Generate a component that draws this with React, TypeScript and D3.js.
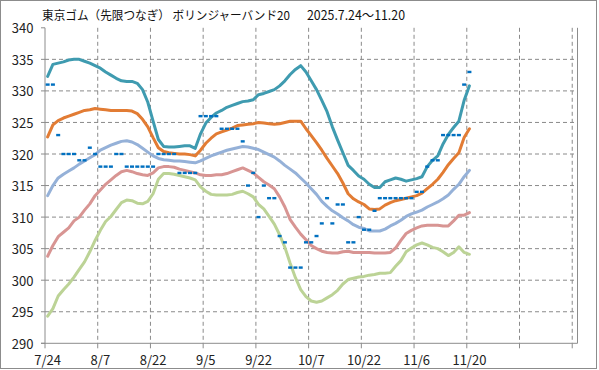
import React from "react";
import * as d3 from "d3";

const dates = [
  "7/24","7/25","7/28","7/29","7/30","7/31","8/1","8/4","8/5","8/6",
  "8/7","8/8","8/12","8/13","8/14","8/15","8/18","8/19","8/20","8/21",
  "8/22","8/25","8/26","8/27","8/28","8/29","9/1","9/2","9/3","9/4",
  "9/5","9/8","9/9","9/10","9/11","9/12","9/16","9/17","9/18","9/19",
  "9/22","9/24","9/25","9/26","9/29","9/30","10/1","10/2","10/3","10/6",
  "10/7","10/8","10/9","10/10","10/14","10/15","10/16","10/17","10/20","10/21",
  "10/22","10/23","10/24","10/27","10/28","10/29","10/30","10/31","11/4","11/5",
  "11/6","11/7","11/10","11/11","11/12","11/13","11/14","11/17","11/18","11/19",
  "11/20",
];
const emptyCategories = 20;

const price = [
  331,331,323,320,320,320,319,319,321,320,
  318,318,318,320,320,318,318,318,318,318,
  318,320,320,320,320,317,317,317,317,326,
  326,326,326,324,324,324,324,322,315,317,
  310,315,313,313,307,306,302,302,302,306,
  306,307,309,313,309,312,312,306,306,310,
  308,308,311,313,313,313,313,313,313,313,
  314,314,318,319,319,323,323,323,323,331,
  333,
];

const upper2 = [
  332.3,334.2,334.4,334.6,334.9,335.0,335.0,334.7,334.4,334.0,
  333.6,333.0,332.5,332.0,331.6,331.5,331.5,331.2,330.2,328.2,
  325.2,322.3,321.2,321.1,321.1,321.2,321.3,321.3,320.9,323.2,
  324.9,325.8,326.5,326.9,327.4,327.7,328.0,328.3,328.4,328.6,
  329.4,329.6,329.9,330.2,330.8,331.6,332.6,333.4,334.0,333.0,
  331.6,330.2,328.5,326.7,324.3,322.2,320.2,318.2,317.4,316.5,
  316.0,315.2,314.7,314.7,315.6,315.9,316.2,316.0,315.7,315.9,
  316.1,316.4,318.0,319.0,319.7,321.6,323.1,324.2,325.2,328.5,
  330.8,
];

const upper1 = [
  322.7,324.6,325.3,325.7,326.0,326.3,326.6,326.9,327.0,327.2,
  327.1,327.0,326.9,326.9,326.9,326.9,326.8,326.4,325.5,324.3,
  322.6,321.0,320.4,320.2,320.1,320.0,320.0,319.9,319.7,320.6,
  321.7,322.5,323.2,323.5,323.8,324.1,324.5,324.6,324.7,324.8,
  325.0,324.9,324.8,324.7,324.8,325.0,325.2,325.2,325.2,324.0,
  322.9,321.8,320.6,319.3,318.1,316.9,315.4,313.7,312.9,312.4,
  312.0,311.3,311.2,311.3,311.9,312.3,312.6,312.8,313.0,313.2,
  313.4,313.8,314.5,315.2,316.0,317.1,318.3,319.3,320.2,322.6,
  324.0,
];

const middle = [
  313.4,315.0,316.2,316.8,317.3,317.8,318.4,318.9,319.4,319.9,
  320.6,321.0,321.4,321.7,322.0,322.1,321.9,321.5,320.9,320.3,
  319.7,319.3,319.1,319.0,318.9,318.9,318.8,318.7,318.6,318.9,
  319.3,319.7,320.0,320.3,320.6,320.8,321.0,321.2,321.1,320.9,
  320.7,320.3,319.9,319.5,318.9,318.2,317.6,317.0,316.2,315.4,
  314.5,313.6,312.5,311.7,311.0,310.5,309.9,309.4,308.8,308.4,
  308.2,307.8,307.8,307.8,308.1,308.6,309.0,309.5,310.1,310.5,
  310.8,311.1,311.6,312.0,312.4,312.9,313.5,314.4,315.2,316.4,
  317.4,
];

const lower1 = [
  303.8,305.5,306.9,307.6,308.3,309.4,310.0,311.1,312.1,313.4,
  314.3,315.2,315.9,316.6,317.2,317.4,317.2,316.9,316.7,316.6,
  317.0,317.8,318.0,318.0,317.9,317.6,317.4,317.2,317.0,316.7,
  316.6,316.6,316.7,316.7,316.9,317.2,317.5,317.8,317.4,317.0,
  316.3,315.6,315.1,314.5,313.2,311.6,309.6,308.4,307.3,306.4,
  305.5,305.0,304.6,304.4,304.3,304.3,304.5,304.6,304.4,304.4,
  304.4,304.4,304.3,304.3,304.3,304.4,305.1,306.3,307.4,307.9,
  308.3,308.6,308.7,308.7,308.7,308.6,308.6,309.4,310.3,310.3,
  310.7,
];

const lower2 = [
  294.3,295.5,297.5,298.5,299.4,300.5,301.7,302.9,304.5,306.3,
  307.9,309.3,310.1,311.2,312.3,312.7,312.6,312.2,312.1,312.5,
  313.7,316.0,316.9,316.9,316.8,316.6,316.4,316.2,315.9,314.8,
  314.1,313.6,313.5,313.5,313.5,313.6,313.9,314.1,313.7,313.2,
  312.0,311.3,310.1,308.9,307.2,305.2,302.7,300.4,298.5,297.4,
  296.7,296.5,296.7,297.2,297.7,298.4,299.4,300.1,300.3,300.5,
  300.6,300.8,300.9,301.1,301.1,301.2,302.2,303.1,304.5,305.1,
  305.6,305.9,305.6,305.2,305.0,304.5,303.9,304.4,305.3,304.4,
  304.1,
];

const yTicks = [290, 295, 300, 305, 310, 315, 320, 325, 330, 335, 340];
const titleMain = "東京ゴム（先限つなぎ） ボリンジャーバンド20";
const titleRange = "2025.7.24～11.20";

const W = 599;
const H = 370;
const plotL = 45;
const plotR = 577.5;
const plotT = 27.8;
const plotB = 343.3;

const seriesList = [
  { name: "+2σ", values: upper2, color: "#3f9bb0" },
  { name: "+1σ", values: upper1, color: "#e27c34" },
  { name: "MA20", values: middle, color: "#95b1d8" },
  { name: "-1σ", values: lower1, color: "#d89593" },
  { name: "-2σ", values: lower2, color: "#bcd396" },
];

export default function App() {
  const nCat = dates.length + emptyCategories;
  const cats = d3.range(nCat);
  const x = d3.scaleBand<number>().domain(cats).range([plotL, plotR]).padding(0);
  const bw = x.bandwidth();
  const cx = (i: number) => (x(i) as number) + bw / 2;
  const y = d3.scaleLinear().domain([290, 340]).range([plotB, plotT]);

  const line = d3
    .line<number>()
    .x((_, i) => cx(i))
    .y((v) => y(v));

  const labelIdx = cats.filter((i) => i % 10 === 0);
  const gridColor = "#8a8a8a";
  const axisFont = "'Noto Sans CJK JP', 'Liberation Sans', sans-serif";

  return (
    <svg
      width={W}
      height={H}
      style={{ position: "absolute", left: 0, top: 0, background: "#fff" }}
      fontFamily={axisFont}
    >
      <rect x={0.5} y={0.5} width={W - 3} height={H - 2} fill="#fff" stroke="#8c8c8c" />

      {/* horizontal gridlines */}
      {yTicks
        .filter((t) => t > 290 && t < 340)
        .map((t) => (
          <line
            key={"hg" + t}
            x1={plotL}
            x2={plotR}
            y1={y(t)}
            y2={y(t)}
            stroke={gridColor}
            strokeDasharray="4,3"
          />
        ))}
      {/* vertical gridlines */}
      {labelIdx
        .filter((i) => i > 0)
        .map((i) => (
          <line
            key={"vg" + i}
            x1={x(i) as number}
            x2={x(i) as number}
            y1={plotT}
            y2={plotB}
            stroke={gridColor}
            strokeDasharray="4,3"
          />
        ))}

      {/* axes */}
      <line x1={plotL} x2={plotL} y1={plotT} y2={plotB} stroke="#8c8c8c" />
      <line x1={plotL - 4} x2={plotR} y1={plotB} y2={plotB} stroke="#8c8c8c" />
      <line x1={plotR} x2={plotR} y1={plotT} y2={plotB} stroke="#8c8c8c" />
      {yTicks.map((t) => (
        <line key={"yt" + t} x1={plotL - 4} x2={plotL} y1={y(t)} y2={y(t)} stroke="#8c8c8c" />
      ))}
      {labelIdx.map((i) => (
        <line
          key={"xt" + i}
          x1={x(i) as number}
          x2={x(i) as number}
          y1={plotB}
          y2={plotB + 5}
          stroke="#8c8c8c"
        />
      ))}

      {/* y labels */}
      {yTicks.map((t) => (
        <text key={"yl" + t} x={33.5} y={y(t) + 5.5} textAnchor="end" fontSize={13} fill="#222">
          {t}
        </text>
      ))}
      {/* x labels */}
      {labelIdx.map((i) => (
        <text key={"xl" + i} x={cx(i)} y={365} textAnchor="middle" fontSize={13} fill="#222">
          {dates[i] ?? ""}
        </text>
      ))}

      {/* band lines */}
      {seriesList.map((s) => (
        <path
          key={s.name}
          d={line(s.values) || ""}
          fill="none"
          stroke={s.color}
          strokeWidth={3}
          strokeLinejoin="round"
          strokeLinecap="round"
        />
      ))}

      {/* price markers */}
      {price.map((p, i) => (
        <rect key={"p" + i} x={cx(i) - 2} y={y(p) - 1.2} width={4} height={2.4} fill="#0070c0" />
      ))}

      {/* title */}
      <text x={42} y={19.5} fontSize={12} fill="#111" textLength={248} lengthAdjust="spacingAndGlyphs">
        {titleMain}
      </text>
      <text x={307} y={19.5} fontSize={12.5} fill="#111" textLength={98} lengthAdjust="spacingAndGlyphs">
        {titleRange}
      </text>
    </svg>
  );
}
